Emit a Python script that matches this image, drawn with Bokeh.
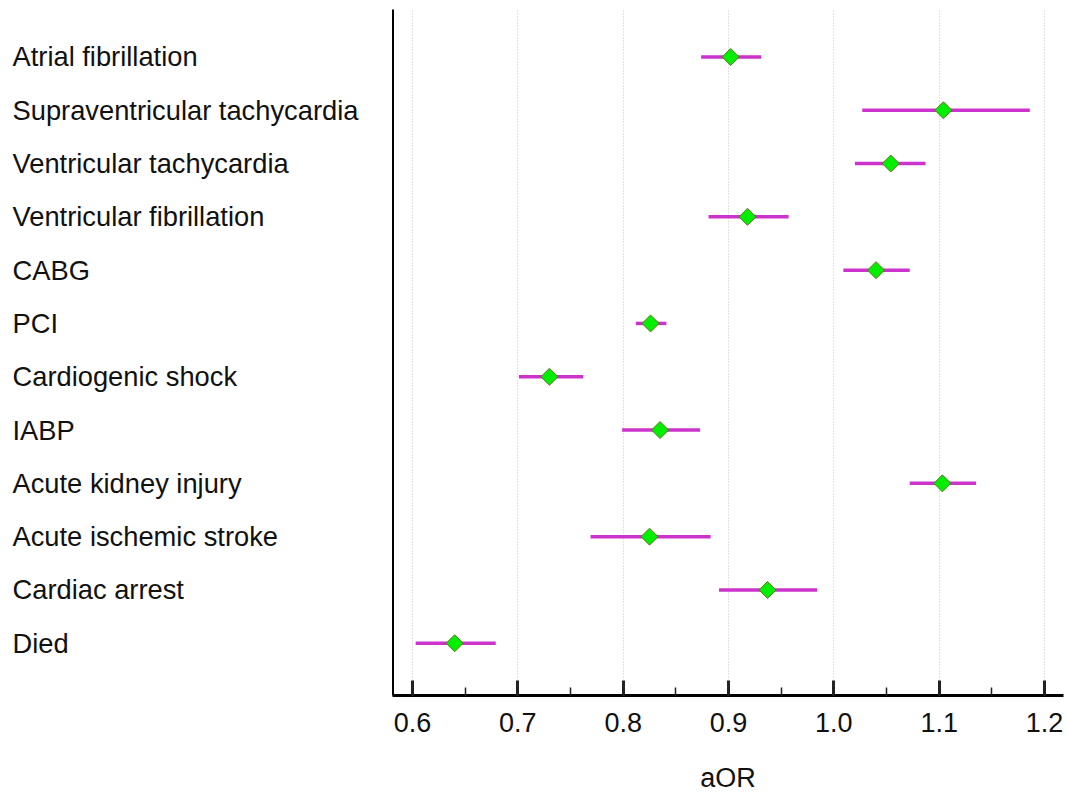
from bokeh.plotting import figure
from bokeh.layouts import row
from bokeh.models import ColumnDataSource, SingleIntervalTicker, FixedTicker, Range1d
from bokeh.core.properties import value
from bokeh.embed import file_html
from bokeh.resources import INLINE
import math

outcomes = ["Atrial fibrillation", "Supraventricular tachycardia", "Ventricular tachycardia",
            "Ventricular fibrillation", "CABG", "PCI", "Cardiogenic shock", "IABP",
            "Acute kidney injury", "Acute ischemic stroke", "Cardiac arrest", "Died"]
aor = [0.902, 1.104, 1.054, 0.918, 1.040, 0.826, 0.730, 0.835, 1.103, 0.825, 0.937, 0.640]
lower = [0.874, 1.027, 1.020, 0.881, 1.009, 0.812, 0.701, 0.799, 1.072, 0.769, 0.891, 0.603]
upper = [0.931, 1.186, 1.087, 0.957, 1.072, 0.841, 0.762, 0.873, 1.135, 0.883, 0.984, 0.679]
x_ticks = [0.6, 0.7, 0.8, 0.9, 1.0, 1.1, 1.2]

FONT = "Liberation Sans"
n = len(outcomes)
ypos = [n - i for i in range(n)]
src = ColumnDataSource(dict(name=outcomes, y=ypos, aor=aor, lo=lower, hi=upper))

H = 795
TOP = 9
BOT = 98
yr = Range1d(0.02, 12.89)

left = figure(width=392, height=H, x_range=Range1d(0, 392), y_range=yr,
              x_axis_location=None, y_axis_location=None, toolbar_location=None,
              output_backend="svg", min_border_left=0, min_border_right=0,
              min_border_top=TOP, min_border_bottom=BOT)
left.outline_line_color = None
left.grid.visible = False
left.text(x=12, y="y", text="name", source=src, text_font=value(FONT),
          text_font_size="27.3px", text_align="left", text_baseline="middle",
          text_color="#111111")

p = figure(width=675, height=H, x_range=Range1d(0.581, 1.218), y_range=yr,
           toolbar_location=None, output_backend="svg",
           min_border_left=0, min_border_right=4, min_border_top=TOP, min_border_bottom=BOT)
p.outline_line_color = None
p.ygrid.visible = False
p.xgrid.grid_line_color = "#c4c4c4"
p.xgrid.grid_line_dash = "1 2"
p.xgrid.grid_line_width = 1

p.xaxis.ticker = SingleIntervalTicker(interval=0.1, num_minor_ticks=2)
p.xaxis.major_label_overrides = {t: f"{t:.1f}" for t in x_ticks}
p.xaxis.axis_line_width = 3
p.xaxis.axis_line_color = "black"
p.xaxis.major_tick_in = 15
p.xaxis.major_tick_out = 0
p.xaxis.major_tick_line_width = 3
p.xaxis.major_tick_line_color = "#222222"
p.xaxis.minor_tick_in = 8
p.xaxis.minor_tick_out = 0
p.xaxis.minor_tick_line_width = 1.5
p.xaxis.minor_tick_line_color = "#222222"
p.xaxis.major_label_text_font = FONT
p.xaxis.major_label_text_font_size = "27px"
p.xaxis.major_label_text_color = "#111111"
p.xaxis.major_label_standoff = 17
p.xaxis.axis_label = "aOR"
p.xaxis.axis_label_text_font = FONT
p.xaxis.axis_label_text_font_size = "27px"
p.xaxis.axis_label_text_font_style = "normal"
p.xaxis.axis_label_text_color = "#111111"
p.xaxis.axis_label_standoff = 28

p.yaxis.ticker = FixedTicker(ticks=[])
p.yaxis.axis_line_width = 3
p.yaxis.axis_line_color = "black"
p.yaxis.major_tick_line_color = None
p.yaxis.minor_tick_line_color = None
p.yaxis.major_label_text_font_size = "0px"

p.segment(x0="lo", x1="hi", y0="y", y1="y", source=src, line_color="#cc33cc", line_width=3.5)
p.scatter(x="aor", y="y", source=src, marker="square", angle=math.pi / 4, size=12,
          fill_color="#00ee00", line_color="#5a7a1a", line_width=1)

layout = row(left, p, spacing=0)
open("out.html", "w").write(file_html(layout, INLINE))
